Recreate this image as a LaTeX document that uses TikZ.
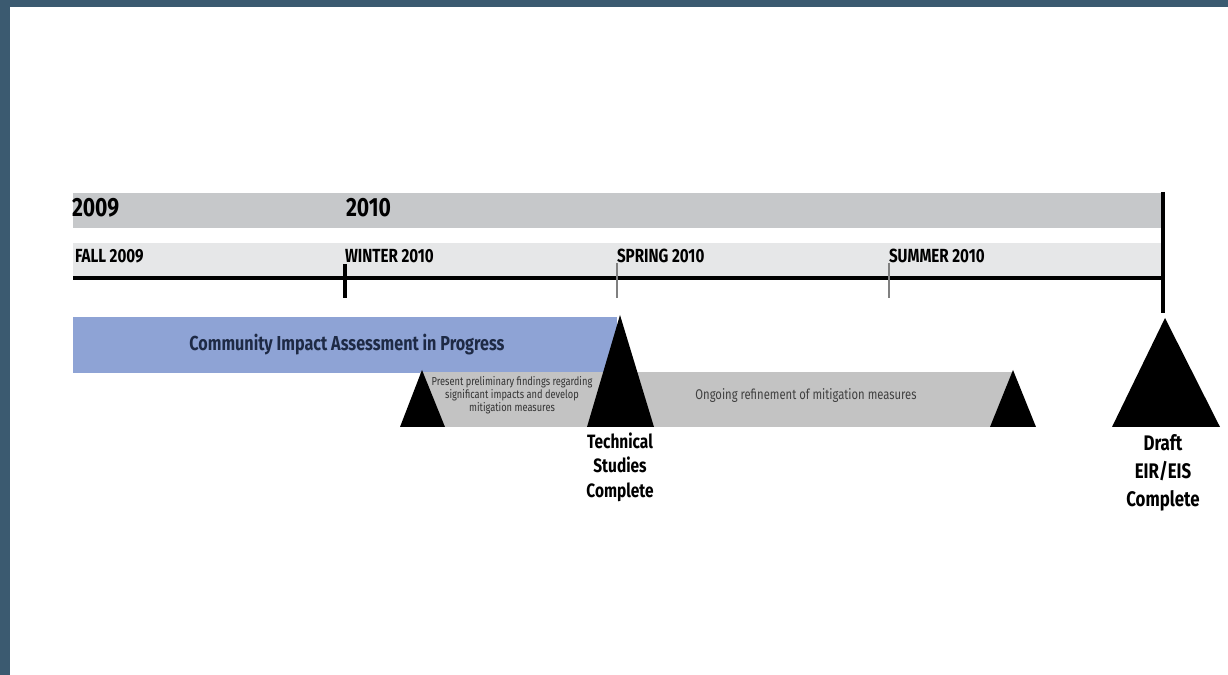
\documentclass[tikz,border=0pt]{standalone}
\usepackage{fontspec}
\setmainfont{Fira Sans}[FakeStretch=0.8]
\usepackage{tikz}
\usetikzlibrary{positioning}

\definecolor{framecol}{HTML}{3B5A70}
\definecolor{yearcol}{HTML}{C6C8CA}
\definecolor{seasoncol}{HTML}{E6E7E8}
\definecolor{ciacol}{HTML}{8EA3D5}
\definecolor{ongoingcol}{HTML}{C3C3C3}
\definecolor{navytext}{HTML}{1E2A45}

\begin{document}
\begin{tikzpicture}[x=0.02cm, y=-0.02cm,
    every node/.style={inner sep=0pt, outer sep=0pt},
    yearlbl/.style={anchor=west, font=\bfseries\fontsize{15}{15}\selectfont},
    seasonlbl/.style={anchor=west, font=\bfseries\fontsize{10.8}{11}\selectfont},
    tick/.style={draw=gray, line width=0.6pt},
    milestonelbl/.style={align=center, anchor=north, font=\bfseries\fontsize{11}{13.8}\selectfont}]
    \useasboundingbox (0,0) rectangle (1228,675);

    % Frame
    \fill[framecol] (0,0) rectangle (1228,7);
    \fill[framecol] (0,0) rectangle (10,675);

    % Bands
    \fill[yearcol] (73,193) rectangle (1163,228);
    \fill[seasoncol] (73,243) rectangle (1163,276);

    % Year labels
    \node[yearlbl] (y2009) at (72,208) {2009};
    \node[yearlbl] (y2010) at (346,208) {2010};

    % Season labels
    \node[seasonlbl] (fall) at (75,256) {FALL 2009};
    \node[seasonlbl] (winter) at (345,256) {WINTER 2010};
    \node[seasonlbl] (spring) at (617,256) {SPRING 2010};
    \node[seasonlbl] (summer) at (889,256) {SUMMER 2010};

    % Axis and ticks
    \coordinate (axs) at (73,278);
    \coordinate (axe) at (1163,278);
    \draw[line width=2pt] (axs) -- (axe);
    \draw[line width=2pt] (winter.west |- 0,264) -- (winter.west |- 0,298);
    \draw[tick] (spring.west |- 0,263) -- (spring.west |- 0,298);
    \draw[tick] (summer.west |- 0,263) -- (summer.west |- 0,298);
    \draw[line width=2pt] (1163,192) -- (1163,313);

    % Bars
    \fill[ciacol] (73,317) rectangle (617,373);
    \node[text=navytext, font=\bfseries\fontsize{11.5}{12}\selectfont] (cia) at (347,345) {Community Impact Assessment in Progress};
    \fill[ongoingcol] (420,372) rectangle (1012,427);
    \node[text=black!80, align=center, font=\fontsize{6.6}{7.4}\selectfont] (findings) at (512,395)
        {Present preliminary findings regarding\\significant impacts and develop\\mitigation measures};
    \node[text=black!75, font=\fontsize{8}{9}\selectfont] (ongoing) at (806,396) {Ongoing refinement of mitigation measures};

    % Triangles
    \fill (422,370) -- (445,427) -- (400,427) -- cycle;
    \fill (620,315) -- (654,427) -- (587,427) -- cycle;
    \fill (1013,370) -- (1036,427) -- (990,427) -- cycle;
    \fill (1165,318) -- (1220,427) -- (1112,427) -- cycle;

    % Milestone labels
    \node[milestonelbl] (tsc) at (620,433) {Technical\\Studies\\Complete};
    \node[milestonelbl, font=\bfseries\fontsize{12}{16}\selectfont] (draft) at (1163,434) {Draft\\EIR/EIS\\Complete};
\end{tikzpicture}
\end{document}
